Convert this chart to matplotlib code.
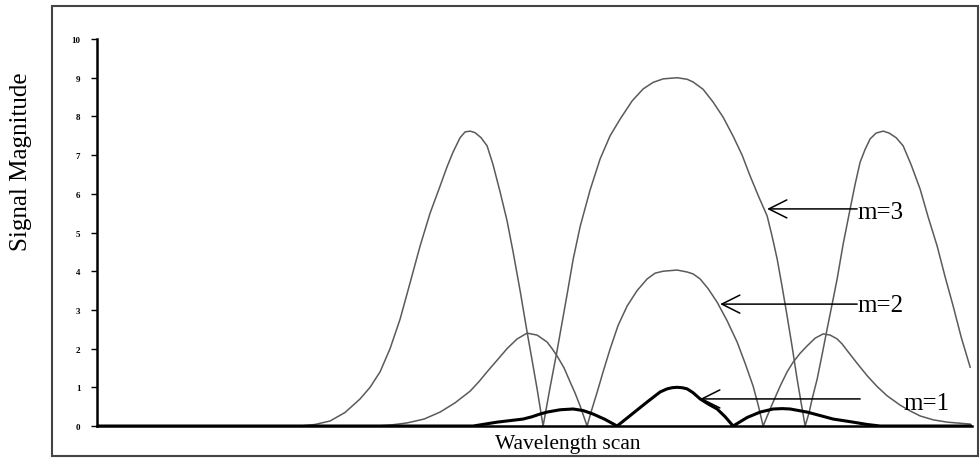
import matplotlib.pyplot as plt
from matplotlib.patches import Rectangle

plt.rcParams['font.family'] = ['Liberation Serif', 'DejaVu Serif']

# scan position (arbitrary units) and signal magnitude
x_m3 = [0, 203, 218, 233, 248, 263, 273, 283, 293, 303, 313, 323, 333, 343, 350, 356, 363, 368,
        373, 378, 384, 390, 396, 403, 410, 416, 423, 430, 435, 440, 446,
        453, 460, 470, 476, 483, 493, 503, 513, 523, 535, 546, 556, 566, 580, 590, 596, 606,
        616, 626, 636, 645, 653, 662, 670, 675, 680, 685, 690, 695, 700, 704, 708,
        712, 715, 720, 725, 730, 735, 740, 746, 753, 758, 763, 768, 773, 779, 786, 792, 799,
        806, 814, 823, 831, 840, 848, 856, 864, 873]
y_m3 = [0, 0, 0.04, 0.13, 0.35, 0.7, 1.0, 1.4, 2.0, 2.76, 3.7, 4.65, 5.5, 6.2, 6.7, 7.08, 7.45, 7.6,
        7.62, 7.58, 7.45, 7.24, 6.75, 6.05, 5.3, 4.5, 3.5, 2.43, 1.7, 0.96, 0,
        1.0, 1.95, 3.4, 4.3, 5.15, 6.1, 6.9, 7.5, 7.93, 8.4, 8.71, 8.88, 8.97, 9.0, 8.96, 8.89, 8.7,
        8.37, 7.98, 7.49, 7.0, 6.46, 5.9, 5.43, 4.9, 4.32, 3.6, 2.84, 2.05, 1.21, 0.6, 0,
        0.35, 0.7, 1.21, 1.85, 2.51, 3.15, 3.8, 4.7, 5.61, 6.25, 6.82, 7.15, 7.42, 7.57, 7.62, 7.57, 7.45,
        7.24, 6.75, 6.12, 5.4, 4.65, 3.85, 3.1, 2.3, 1.52]

x_m2 = [0, 280, 295, 310, 327, 343, 358, 373, 382, 390, 400, 410, 420, 430, 440, 450, 455, 460,
        467, 473, 478, 483, 490,
        495, 500, 506, 513, 521, 530, 540, 550, 558, 566, 580, 590, 596, 603, 611, 620, 630, 640,
        648, 656, 661, 666,
        674, 683, 690, 696, 703, 710, 718, 726, 733, 740, 745, 750, 760, 770, 780, 790, 803, 813,
        823, 836, 850, 873]
y_m2 = [0, 0, 0.03, 0.08, 0.18, 0.36, 0.6, 0.9, 1.15, 1.4, 1.7, 2.0, 2.25, 2.4, 2.35, 2.17, 2.0, 1.81,
        1.5, 1.14, 0.85, 0.52, 0,
        0.45, 0.87, 1.4, 1.99, 2.6, 3.1, 3.5, 3.8, 3.95, 4.0, 4.03, 3.98, 3.93, 3.8, 3.55, 3.2, 2.72, 2.17,
        1.62, 1.03, 0.55, 0,
        0.5, 1.03, 1.4, 1.65, 1.88, 2.07, 2.27, 2.38, 2.35, 2.25, 2.12, 1.95, 1.62, 1.3, 1.02, 0.78, 0.54, 0.39,
        0.26, 0.16, 0.1, 0.05]

x_m1 = [0, 376, 388, 400, 413, 426, 435, 443, 450, 463, 476, 486, 496, 508, 520,
        535, 550, 557, 563, 570, 575, 580, 585, 590, 596, 603, 611, 620, 628, 636,
        650, 663, 676, 685, 693, 710, 723, 736, 756, 770, 783, 875]
y_m1 = [0, 0, 0.05, 0.1, 0.14, 0.18, 0.24, 0.31, 0.36, 0.42, 0.44, 0.4, 0.31, 0.17, 0,
        0.31, 0.62, 0.76, 0.88, 0.96, 0.99, 1.0, 0.99, 0.96, 0.86, 0.7, 0.57, 0.44, 0.24, 0,
        0.22, 0.36, 0.44, 0.45, 0.44, 0.36, 0.27, 0.18, 0.1, 0.04, 0, 0]

y_ticks = list(range(11))
labels = ['m=3', 'm=2', 'm=1']
arrow_tips = [(670, 5.61), (623, 3.15), (603, 0.70)]
arrow_ends = [(760, 5.61), (760, 3.15), (763, 0.70)]
label_pos = [(760, 5.53), (760, 3.13), (806, 0.59)]

fig = plt.figure(figsize=(9.8, 4.6), dpi=100)
ax = fig.add_axes([0.099, 0.0717, 0.893, 0.8413])

ax.plot(x_m3, y_m3, color='#5a5a5a', lw=1.1)
ax.plot(x_m2, y_m2, color='#5a5a5a', lw=1.1)
ax.plot(x_m1, y_m1, color='black', lw=2.2)

for lab, tip, end, pos in zip(labels, arrow_tips, arrow_ends, label_pos):
    ax.annotate('', xy=tip, xytext=end,
                arrowprops=dict(arrowstyle='->,head_length=0.72,head_width=0.36',
                                color='black', lw=1.1, mutation_scale=18,
                                shrinkA=0, shrinkB=0))
    ax.text(pos[0], pos[1], lab, fontsize=18, ha='left', va='center')

ax.set_xlim(0, 875)
ax.set_ylim(0, 10)
ax.set_yticks(y_ticks)
ax.set_yticklabels([str(t) for t in y_ticks], fontsize=6.5, fontweight='bold')
ax.set_xticks([])
ax.tick_params(axis='y', direction='out', length=4, width=1, pad=8)
for s in ['top', 'right']:
    ax.spines[s].set_visible(False)
ax.spines['left'].set_linewidth(1.8)
ax.spines['bottom'].set_linewidth(1.8)

fig.text(0.579, 0.033, 'Wavelength scan', fontsize=15.5, ha='center', va='center')
fig.text(0.021, 0.648, 'Signal Magnitude', fontsize=18, rotation=90, ha='center', va='center')

fig.patches.append(Rectangle((0.053, 0.006), 0.945, 0.978, transform=fig.transFigure,
                             fill=False, edgecolor='#444444', lw=1.5))

fig.savefig('out.png', dpi=100)
